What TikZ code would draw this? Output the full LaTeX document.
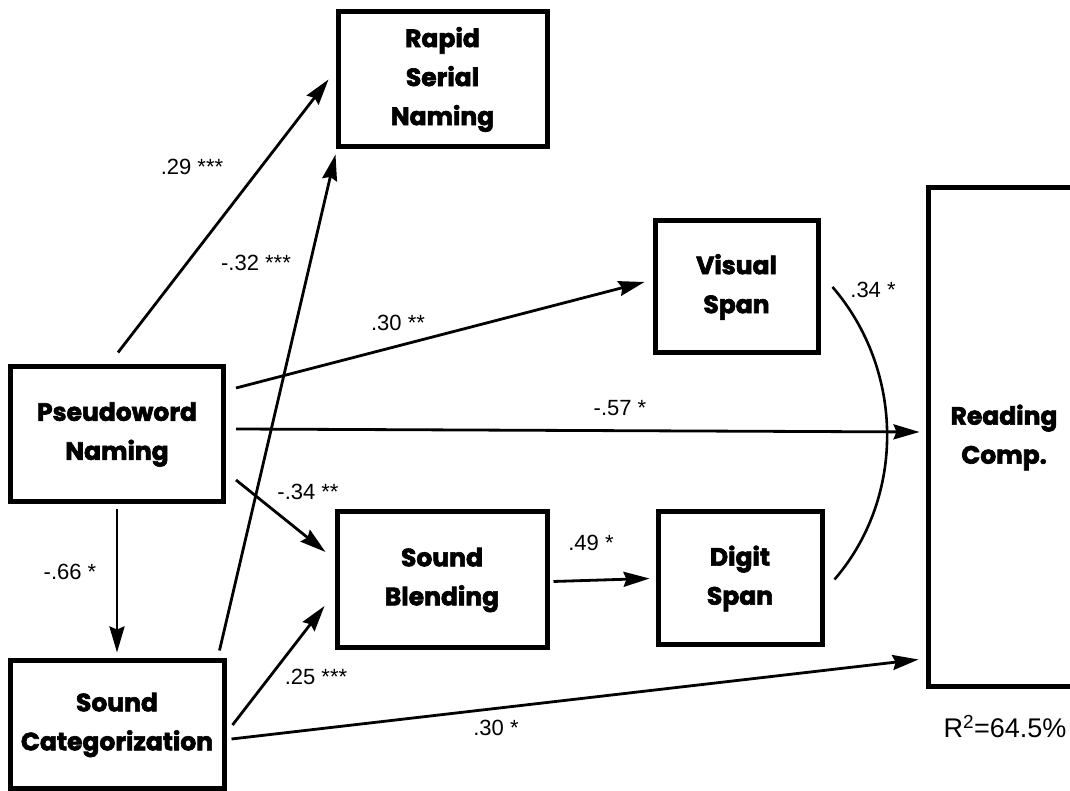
\documentclass[tikz,border=0pt]{standalone}
\usepackage{fontspec}
\setmainfont{Liberation Sans}
\newfontfamily\boxfont{Poppins Bold}[FakeBold=2.5]
\usetikzlibrary{arrows.meta}
\tikzset{
  var/.style={draw, line width=5pt, inner sep=0pt, align=center,
    font=\boxfont\fontsize{25}{39}\selectfont},
  effect/.style={line width=2.8pt, -{Stealth[length=26pt,width=15pt,inset=3pt]}},
  coef/.style={font=\fontsize{22}{24}\selectfont}
}
\begin{document}
\begin{tikzpicture}[x=1pt,y=1pt]
\useasboundingbox (0,0) rectangle (1070,791);
% variables
\node[var, minimum width=209pt, minimum height=135pt] (rsn) at (442.5,711.5) {Rapid\\Serial\\Naming};
\node[var, minimum width=213pt, minimum height=135pt] (pn) at (117,356.5) {Pseudoword\\Naming};
\node[var, minimum width=214pt, minimum height=128pt] (sc) at (117,66) {Sound\\Categorization};
\node[var, minimum width=210pt, minimum height=136pt] (sb) at (442,211) {Sound\\Blending};
\node[var, minimum width=163pt, minimum height=132pt] (vs) at (736.5,504) {Visual\\Span};
\node[var, minimum width=164pt, minimum height=133pt] (ds) at (740,212.5) {Digit\\Span};
\node[var, minimum width=152pt, minimum height=499pt] (rc) at (1004,353.5) {Reading\\Comp.};
\node[font=\fontsize{27}{29}\selectfont] (r2) at (1005,64) {R\textsuperscript{2}=64.5\%};
% paths
\draw[effect] ([xshift=1pt,yshift=12pt]pn.north) -- ([xshift=-7pt]rsn.west);
\draw[effect] ([xshift=-7pt,yshift=8pt]sc.north east) -- ([yshift=-5pt]rsn.south west);
\draw[effect] ([xshift=10pt,yshift=46.5pt]pn.east) -- ([xshift=-8pt,yshift=5pt]vs.west);
\draw[effect] ([xshift=10pt,yshift=5.5pt]pn.east) -- ([xshift=-6pt,yshift=5.5pt]rc.west);
\draw[effect] ([xshift=10pt,yshift=-45.5pt]pn.east) -- ([xshift=-9pt,yshift=28pt]sb.west);
\draw[effect] ([yshift=-5pt]pn.south) -- ([yshift=6pt]sc.north);
\draw[effect] ([xshift=6pt]sc.east) -- ([xshift=-10pt,yshift=-26pt]sb.west);
\draw[effect] ([xshift=5pt,yshift=-14pt]sc.east) -- ([xshift=-7pt,yshift=30pt]rc.south west);
\draw[effect] ([xshift=4pt,yshift=-1.5pt]sb.east) -- ([xshift=-6pt]ds.west);
% correlation
\draw[line width=2.6pt] ([xshift=12pt]vs.east) .. controls +(71.5,-83) and +(71.5,83) .. ([xshift=10pt,yshift=-1pt]ds.east);
% coefficients
\node[coef] (c1) at (192,624) {.29 ***};
\node[coef] (c2) at (256,528) {-.32 ***};
\node[coef] (c3) at (398,468) {.30 **};
\node[coef] (c4) at (620,383) {-.57 *};
\node[coef] (c5) at (308,299) {-.34 **};
\node[coef] (c6) at (70,219) {-.66 *};
\node[coef] (c7) at (316,114) {.25 ***};
\node[coef] (c8) at (496,63) {.30 *};
\node[coef] (c9) at (591,248) {.49 *};
\node[coef] (c10) at (873,501) {.34 *};
\end{tikzpicture}
\end{document}
